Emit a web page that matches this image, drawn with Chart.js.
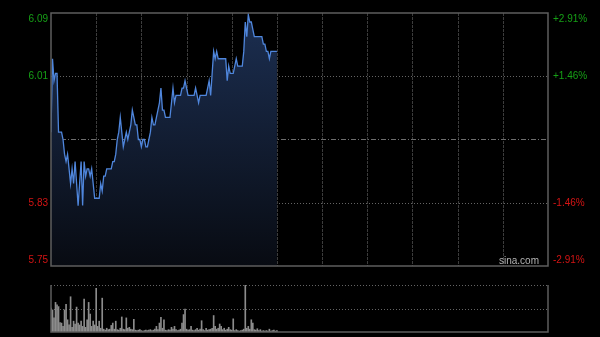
<!DOCTYPE html>
<html>
<head>
<meta charset="utf-8">
<script src="https://cdn.jsdelivr.net/npm/chart.js@4/dist/chart.umd.min.js"></script>
<style>
  html, body { margin:0; padding:0; background:#000; }
  #wrap { position:relative; width:600px; height:337px; background:#000; overflow:hidden; }
  #priceCanvas { position:absolute; left:0; top:0; }
  #volCanvas { position:absolute; left:0; top:275px; }
  #brand { position:absolute; left:499px; top:255px; font:10px "Liberation Sans", Arial, sans-serif; color:#b4b4b4; }
</style>
</head>
<body>
<div id="wrap">
  <canvas id="priceCanvas" width="600" height="275"></canvas>
  <canvas id="volCanvas" width="600" height="62"></canvas>
  <div id="brand">sina.com</div>
</div>
<script>
// ---- data ----
const prevClose = 5.92;
const sessionMinutes = 330;           // 9:30-12:00, 13:00-16:00
const gridStepMinutes = 30;
const pctTicks = [-0.0291, -0.0146, 0, 0.0146, 0.0291];
const priceTickLabels = ['5.75', '5.83', '', '6.01', '6.09'];
const pctTickLabels = ['-2.91%', '-1.46%', '', '+1.46%', '+2.91%'];

const prices = [
  5.93,6.03,6.00,6.01,6.01,5.93,5.93,5.93,5.92,5.90,
  5.89,5.90,5.88,5.86,5.88,5.86,5.89,5.86,5.83,5.86,
  5.89,5.83,5.89,5.87,5.88,5.88,5.87,5.88,5.86,5.84,
  5.84,5.84,5.84,5.86,5.85,5.87,5.87,5.88,5.88,5.88,
  5.88,5.89,5.89,5.90,5.92,5.93,5.95,5.93,5.91,5.92,
  5.93,5.92,5.93,5.94,5.96,5.95,5.94,5.94,5.92,5.92,
  5.91,5.92,5.92,5.91,5.91,5.92,5.93,5.95,5.94,5.94,
  5.95,5.96,5.97,5.99,5.96,5.96,5.95,5.95,5.95,5.95,
  5.97,5.99,5.97,5.98,5.98,5.98,5.98,5.99,5.99,6.00,
  5.99,5.98,5.98,5.98,5.98,5.98,5.99,5.98,5.97,5.98,
  5.98,5.98,5.98,5.98,5.99,6.00,5.98,6.01,6.04,6.03,
  6.04,6.03,6.03,6.03,6.03,6.03,6.03,6.00,6.02,6.01,
  6.01,6.01,6.02,6.03,6.02,6.02,6.02,6.02,6.04,6.08,
  6.06,6.09,6.08,6.08,6.07,6.06,6.06,6.06,6.06,6.06,
  6.06,6.05,6.05,6.04,6.04,6.03,6.04,6.04,6.04,6.04,
  6.04
];

const volumes = [
  51,47,30,63,58,54,20,19,12,47,
  59,26,15,75,10,23,17,53,19,15,
  23,12,70,10,26,63,38,12,23,15,
  93,12,23,8,72,6,4,8,5,6,
  14,19,6,23,5,4,8,32,6,5,
  30,8,10,6,5,27,4,3,4,5,
  3,2,3,4,3,4,5,3,4,6,
  12,5,19,31,8,26,4,3,5,4,
  10,6,12,5,3,4,6,19,37,49,
  6,4,5,12,4,3,5,8,4,6,
  24,5,3,8,4,5,6,8,35,12,
  6,8,17,12,5,8,4,6,10,5,
  4,28,3,5,3,2,3,4,6,100,
  8,12,6,26,19,5,4,7,3,5,
  2,3,2,3,2,6,2,3,4,2,
  3
];
const volMax = 100;

// ---- derived ----
const yMin = prevClose * (1 + pctTicks[0]);
const yMax = prevClose * (1 + pctTicks[pctTicks.length - 1]);
const tickValues = pctTicks.map(p => prevClose * (1 + p));
const lastIdx = tickValues.length - 1;

function labelFor(arr, i) {
  if (i === lastIdx) return ['', arr[i]];
  if (i === 0) return [arr[i], ''];
  return arr[i];
}
function tickColor(ctx) {
  const i = ctx.index;
  if (i > 2) return '#16a016';
  if (i < 2) return '#d41414';
  return '#888';
}
const tickFont = { family: '"Liberation Sans", Arial, sans-serif', size: 10 };
function fixVertical(width) {
  return function (s) { s.width = width; s.paddingTop = 0; s.paddingBottom = 0; };
}
function fixHorizontal(s) { s.height = 0; s.paddingLeft = 0; s.paddingRight = 0; }

// ---- price chart ----
const priceGridPlugin = {
  id: 'priceGrid',
  beforeDatasetsDraw(chart) {
    const { ctx, chartArea: a, scales } = chart;
    const xs = scales.x, ys = scales.y;
    ctx.save();
    ctx.lineWidth = 1;
    ctx.strokeStyle = '#3c3c3c';
    ctx.setLineDash([3, 1]);
    for (let m = gridStepMinutes; m < sessionMinutes; m += gridStepMinutes) {
      const px = Math.round(xs.getPixelForValue(m)) + 0.5;
      ctx.beginPath(); ctx.moveTo(px, a.top); ctx.lineTo(px, a.bottom); ctx.stroke();
    }
    tickValues.forEach((v, i) => {
      if (i === 0 || i === lastIdx) return;
      const py = Math.round(ys.getPixelForValue(v)) + 0.5;
      if (i === 2) { ctx.strokeStyle = '#6e6e6e'; ctx.setLineDash([5, 2, 1, 2]); }
      else { ctx.strokeStyle = '#646464'; ctx.setLineDash([1, 2]); }
      ctx.beginPath(); ctx.moveTo(a.left, py); ctx.lineTo(a.right, py); ctx.stroke();
    });
    ctx.restore();
  },
  afterDraw(chart) {
    const { ctx, chartArea: a } = chart;
    ctx.save();
    ctx.strokeStyle = '#5e5e5e';
    ctx.lineWidth = 1.5;
    ctx.setLineDash([]);
    ctx.strokeRect(a.left, a.top, a.right - a.left, a.bottom - a.top);
    ctx.restore();
  }
};

new Chart(document.getElementById('priceCanvas'), {
  type: 'line',
  data: {
    datasets: [{
      data: prices.map((p, i) => ({ x: i, y: p })),
      yAxisID: 'y',
      borderColor: '#4f86dc',
      borderWidth: 1.3,
      pointRadius: 0,
      tension: 0,
      fill: 'start',
      backgroundColor(c) {
        const a = c.chart.chartArea;
        if (!a) return 'rgba(20,35,60,0.6)';
        const g = c.chart.ctx.createLinearGradient(0, a.top, 0, a.bottom);
        g.addColorStop(0, '#1c2f52');
        g.addColorStop(1, '#080b12');
        return g;
      }
    }]
  },
  options: {
    responsive: false,
    animation: false,
    devicePixelRatio: 1,
    layout: { padding: { top: 13, bottom: 9, left: 0, right: 0 } },
    plugins: { legend: { display: false }, tooltip: { enabled: false } },
    scales: {
      x: {
        type: 'linear', min: 0, max: sessionMinutes,
        ticks: { display: false, stepSize: gridStepMinutes },
        grid: { display: false }, border: { display: false },
        afterFit: fixHorizontal
      },
      y: {
        position: 'left', min: yMin, max: yMax,
        afterBuildTicks(s) { s.ticks = tickValues.map(v => ({ value: v })); },
        afterFit: fixVertical(51),
        ticks: {
          autoSkip: false, padding: 3, font: tickFont, color: tickColor,
          callback(v, i) { return labelFor(priceTickLabels, i); }
        },
        grid: { display: false, drawTicks: false }, border: { display: false }
      },
      yR: {
        position: 'right', min: yMin, max: yMax,
        afterBuildTicks(s) { s.ticks = tickValues.map(v => ({ value: v })); },
        afterFit: fixVertical(52),
        ticks: {
          autoSkip: false, padding: 5, font: tickFont, color: tickColor,
          callback(v, i) { return labelFor(pctTickLabels, i); }
        },
        grid: { display: false, drawTicks: false }, border: { display: false }
      }
    }
  },
  plugins: [priceGridPlugin]
});

// ---- volume chart ----
const volGridPlugin = {
  id: 'volGrid',
  beforeDatasetsDraw(chart) {
    const { ctx, chartArea: a, scales } = chart;
    ctx.save();
    ctx.lineWidth = 1;
    ctx.strokeStyle = '#646464';
    ctx.setLineDash([1, 2]);
    [volMax, volMax / 2].forEach(v => {
      const py = Math.round(scales.y.getPixelForValue(v)) + 0.5;
      ctx.beginPath(); ctx.moveTo(a.left, py); ctx.lineTo(a.right, py); ctx.stroke();
    });
    ctx.restore();
  },
  afterDraw(chart) {
    const { ctx, chartArea: a } = chart;
    ctx.save();
    ctx.strokeStyle = '#5e5e5e';
    ctx.lineWidth = 1.5;
    ctx.beginPath();
    ctx.moveTo(a.left, a.top); ctx.lineTo(a.left, a.bottom);
    ctx.lineTo(a.right, a.bottom); ctx.lineTo(a.right, a.top);
    ctx.stroke();
    ctx.restore();
  }
};

new Chart(document.getElementById('volCanvas'), {
  type: 'bar',
  data: {
    datasets: [{
      data: volumes.map((v, i) => ({ x: i, y: v })),
      backgroundColor: '#8c8c8c',
      barThickness: 1,
      borderWidth: 0
    }]
  },
  options: {
    responsive: false,
    animation: false,
    devicePixelRatio: 1,
    layout: { padding: { top: 10, bottom: 5, left: 0, right: 0 } },
    plugins: { legend: { display: false }, tooltip: { enabled: false } },
    scales: {
      x: {
        type: 'linear', min: 0, max: sessionMinutes, offset: false,
        ticks: { display: false },
        grid: { display: false, offset: false }, border: { display: false },
        afterFit: fixHorizontal
      },
      y: {
        min: 0, max: volMax,
        ticks: { display: false },
        grid: { display: false, drawTicks: false }, border: { display: false },
        afterFit: fixVertical(51)
      },
      yR: {
        position: 'right', min: 0, max: volMax,
        ticks: { display: false },
        grid: { display: false, drawTicks: false }, border: { display: false },
        afterFit: fixVertical(52)
      }
    }
  },
  plugins: [volGridPlugin]
});
</script>
</body>
</html>
